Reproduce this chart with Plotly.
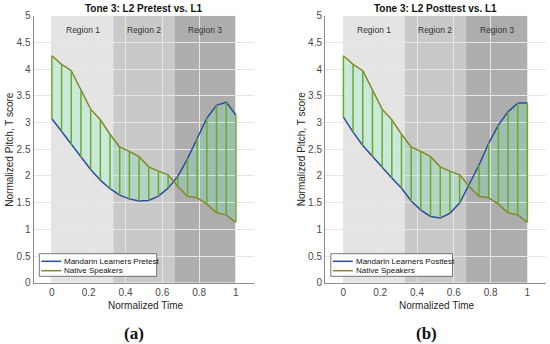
import plotly.graph_objects as go

# ---------------- data ----------------
n_points = 20
time = [k / (n_points - 1) for k in range(n_points)]

native = [4.25, 4.09, 3.97, 3.62, 3.25, 3.05, 2.78, 2.54, 2.46, 2.36,
          2.17, 2.09, 2.02, 1.80, 1.62, 1.59, 1.47, 1.31, 1.27, 1.13]
pretest = [3.07, 2.83, 2.58, 2.34, 2.12, 1.92, 1.76, 1.64, 1.57, 1.53,
           1.54, 1.62, 1.77, 1.99, 2.32, 2.70, 3.08, 3.32, 3.38, 3.14]
posttest = [3.10, 2.82, 2.57, 2.36, 2.15, 1.96, 1.77, 1.53, 1.36, 1.24,
            1.21, 1.30, 1.49, 1.83, 2.20, 2.61, 2.95, 3.20, 3.36, 3.37]

region_bounds = [0, 1 / 3, 2 / 3, 1]
region_names = ["Region 1", "Region 2", "Region 3"]
region_colors = ["#e4e4e4", "#c9c9c9", "#adadad"]

x_ticks = [0, 0.2, 0.4, 0.6, 0.8, 1]
y_ticks = [0, 0.5, 1, 1.5, 2, 2.5, 3, 3.5, 4, 4.5, 5]
y_tick_labels = ["0", "0.5", "1", "1.5", "2", "2.5", "3", "3.5", "4", "4.5", "5"]

panels = [
    dict(title="Tone 3: L2 Pretest vs. L1", learner=pretest,
         learner_name="Mandarin Learners Pretest", tag="(a)"),
    dict(title="Tone 3: L2 Posttest vs. L1", learner=posttest,
         learner_name="Mandarin Learners Posttest", tag="(b)"),
]

# ---------------- style ----------------
W, H = 550, 344
BLUE = "#2f4c9e"
OLIVE = "#86862a"
GREEN = "#6aab2c"
FILL = "rgba(100,255,185,0.2)"
FONT = "Liberation Sans, Arial, sans-serif"
TXT = "#262626"

plot_left = [33.5, 325.0]
plot_width = 220.8
plot_top, plot_bottom = 15.7, 282.7


def px(x):
    return x / W


def py(y):
    return 1 - y / H


fig = go.Figure()
shapes = []
annotations = []
layout_axes = {}


def ann(x, y, text, size, color, **kw):
    d = dict(x=px(x), y=py(y), xref="paper", yref="paper", text=text,
             showarrow=False, xanchor="center", yanchor="middle",
             font=dict(family=kw.pop("family", FONT), size=size, color=color))
    d.update(kw)
    return d


for i, p in enumerate(panels):
    sfx = "" if i == 0 else str(i + 1)
    xa, ya = "x" + sfx, "y" + sfx
    L = plot_left[i]
    R = L + plot_width
    cx = (L + R) / 2

    learner = p["learner"]

    fig.add_trace(go.Scatter(x=time, y=learner, mode="lines", xaxis=xa, yaxis=ya,
                             line=dict(color=BLUE, width=1.5), showlegend=False,
                             hoverinfo="skip"))
    fig.add_trace(go.Scatter(x=time, y=native, mode="lines", xaxis=xa, yaxis=ya,
                             line=dict(color=OLIVE, width=1.5), fill="tonexty",
                             fillcolor=FILL, showlegend=False, hoverinfo="skip"))
    vx, vy = [], []
    for t, a, b in zip(time, learner, native):
        vx += [t, t, None]
        vy += [a, b, None]
    fig.add_trace(go.Scatter(x=vx, y=vy, mode="lines", xaxis=xa, yaxis=ya,
                             line=dict(color=GREEN, width=1.5), showlegend=False,
                             hoverinfo="skip"))

    # region shading
    for r in range(3):
        shapes.append(dict(type="rect", xref=xa, yref=ya, layer="below",
                           x0=region_bounds[r], x1=region_bounds[r + 1],
                           y0=y_ticks[0], y1=y_ticks[-1],
                           fillcolor=region_colors[r], line=dict(width=0)))
        annotations.append(dict(x=(region_bounds[r] + region_bounds[r + 1]) / 2,
                                y=4.74, xref=xa, yref=ya, text=region_names[r],
                                xanchor="center", yanchor="middle",
                                showarrow=False, font=dict(family=FONT, size=8.5, color="#333333")))

    layout_axes["xaxis" + sfx] = dict(
        domain=[px(L), px(R)], range=[-0.1, 1.1], anchor=ya, automargin=False,
        tickvals=x_ticks, ticktext=[("%g" % v) for v in x_ticks],
        showgrid=True, gridcolor="#e6e6e6", gridwidth=1, zeroline=False,
        showline=True, linecolor="#8c8c8c", linewidth=1, ticks="",
        tickfont=dict(family=FONT, size=10, color="#4a4a4a"))
    layout_axes["yaxis" + sfx] = dict(
        domain=[py(plot_bottom), py(plot_top)], range=[0, 5], anchor=xa, automargin=False,
        tickvals=y_ticks, ticktext=y_tick_labels,
        showgrid=True, gridcolor="#e6e6e6", gridwidth=1, zeroline=False,
        showline=True, linecolor="#8c8c8c", linewidth=1, ticks="",
        tickfont=dict(family=FONT, size=10, color="#4a4a4a"))

    # titles
    annotations.append(ann(cx, 8, "<b>" + p["title"] + "</b>", 10, "#111111"))
    annotations.append(ann(cx + 1.5, 305, "Normalized Time", 10, TXT))
    annotations.append(ann(L - 24, (plot_top + plot_bottom) / 2,
                           "Normalized Pitch, T score", 10, TXT, textangle=-90))
    annotations.append(ann(cx - 10 if i == 0 else cx - 9, 333,
                           "<b>" + p["tag"] + "</b>", 17, "#111111",
                           family="Liberation Serif, DejaVu Serif, serif"))

    # custom legend
    lx0 = L + 5.8
    lx1 = lx0 + (117.4 if i == 0 else 121.7)
    shapes.append(dict(type="rect", xref="paper", yref="paper",
                       x0=px(lx0), x1=px(lx1), y0=py(276.3), y1=py(253.7),
                       fillcolor="white", line=dict(color="#555555", width=0.8)))
    for name, col, yy in [(p["learner_name"], BLUE, 261.3), ("Native Speakers", OLIVE, 270.7)]:
        shapes.append(dict(type="line", xref="paper", yref="paper",
                           x0=px(lx0 + 2), x1=px(lx0 + 22), y0=py(yy), y1=py(yy),
                           line=dict(color=col, width=1.5)))
        annotations.append(ann(lx0 + 23, yy, name, 8, "#111111", xanchor="left"))

fig.update_layout(width=W, height=H, margin=dict(l=0, r=0, t=0, b=0, autoexpand=False),
                  paper_bgcolor="white", plot_bgcolor="white",
                  shapes=shapes, annotations=annotations, showlegend=False,
                  **layout_axes)

fig.write_html("out.html", config={"displayModeBar": False, "staticPlot": True},
               post_script="document.body.style.margin='0';document.body.style.overflow='hidden';")
